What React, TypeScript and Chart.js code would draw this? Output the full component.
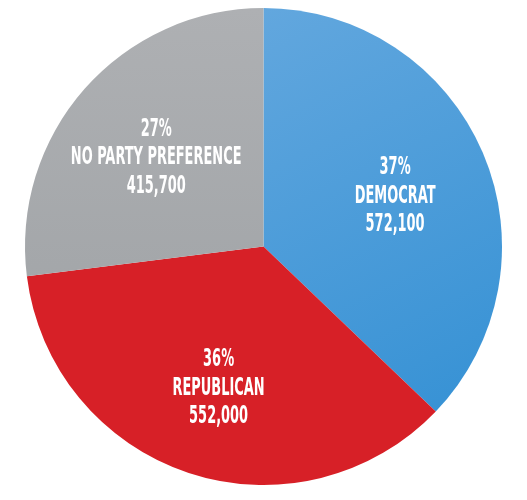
import React, { useEffect, useRef } from "react";
import { Chart, registerables } from "chart.js";

Chart.register(...registerables);

const categories = ["DEMOCRAT", "REPUBLICAN", "NO PARTY PREFERENCE"];
const values = [572100, 552000, 415700];
const percentLabels = ["37%", "36%", "27%"];
const valueLabels = ["572,100", "552,000", "415,700"];

const labelPlugin = {
  id: "sliceLabels",
  afterDatasetsDraw(chart: any) {
    const ctx = chart.ctx;
    const meta = chart.getDatasetMeta(0);
    ctx.save();
    ctx.fillStyle = "#ffffff";
    ctx.textAlign = "center";
    ctx.textBaseline = "middle";
    ctx.font = "bold 24px 'Liberation Sans Narrow', 'DejaVu Sans Condensed', sans-serif";
    const condense = 0.6;
    meta.data.forEach((arc: any, i: number) => {
      const p = arc.getProps(["x", "y", "startAngle", "endAngle", "outerRadius"], true);
      const mid = (p.startAngle + p.endAngle) / 2;
      const r = p.outerRadius * 0.6;
      const cx = p.x + Math.cos(mid) * r;
      const cy = p.y + Math.sin(mid) * r + 6;
      const lines = [percentLabels[i], categories[i], valueLabels[i]];
      lines.forEach((t, j) => {
        ctx.save();
        ctx.translate(cx, cy + (j - 1) * 28.5);
        ctx.scale(condense, 1);
        ctx.fillText(t, 0, 0);
        ctx.restore();
      });
    });
    ctx.restore();
  },
};

export default function App() {
  const ref = useRef<HTMLCanvasElement | null>(null);
  useEffect(() => {
    document.body.style.margin = "0";
    const canvas = ref.current!;
    const chart = new Chart(canvas, {
      type: "pie",
      data: {
        labels: categories,
        datasets: [
          {
            data: values,
            borderWidth: 0,
            backgroundColor: (c: any) => {
              const ch = c.chart;
              const area = ch.chartArea;
              if (!area) return "#4a9ad8";
              if (c.dataIndex === 0) {
                const g = ch.ctx.createLinearGradient(area.left + area.width / 2, area.top, area.right, area.bottom);
                g.addColorStop(0, "#62a7de");
                g.addColorStop(1, "#2f8ed3");
                return g;
              }
              if (c.dataIndex === 1) return "#d72027";
              const g2 = ch.ctx.createLinearGradient(area.left, area.top, area.left, area.top + area.height * 0.6);
              g2.addColorStop(0, "#aeb0b3");
              g2.addColorStop(1, "#a3a6a9");
              return g2;
            },
          },
        ],
      },
      options: {
        responsive: false,
        animation: false,
        layout: { padding: { left: 24, right: 24, top: 8, bottom: 15 } },
        plugins: { legend: { display: false }, tooltip: { enabled: false } },
      },
      plugins: [labelPlugin],
    });
    return () => chart.destroy();
  }, []);
  return (
    <div style={{ position: "absolute", left: 0, top: 0, width: 527, height: 500, background: "#ffffff" }}>
      <canvas ref={ref} width={527} height={500} style={{ width: 527, height: 500, display: "block" }} />
    </div>
  );
}
